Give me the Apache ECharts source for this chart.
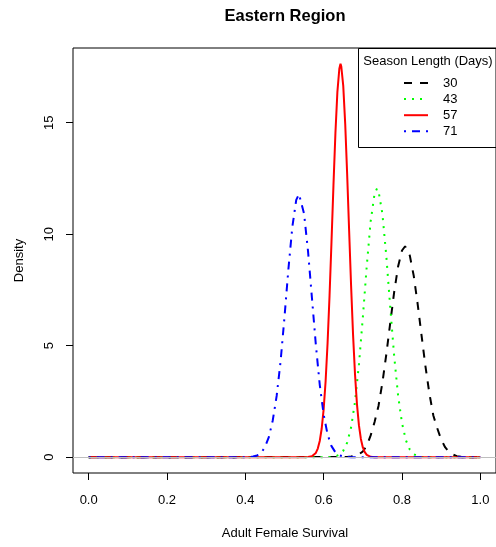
<!DOCTYPE html>
<html>
<head>
<meta charset="utf-8">
<script src="https://cdn.jsdelivr.net/npm/echarts@6/dist/echarts.min.js"></script>
<style>
html,body{margin:0;padding:0;background:#fff;}
#chart{width:496px;height:547px;}
</style>
</head>
<body>
<div id="chart"></div>
<script>
// ---- data ----
var seasonNames = ['30', '43', '57', '71'];
var seriesColors = ['#000000', '#00ff00', '#ff0000', '#0000ff'];

var x30 = [0, 0.66, 0.67, 0.68, 0.69, 0.70, 0.71, 0.72, 0.73, 0.74, 0.75, 0.76, 0.77, 0.78, 0.79, 0.80, 0.808, 0.81, 0.82, 0.83, 0.84, 0.85, 0.86, 0.87, 0.88, 0.89, 0.90, 0.91, 0.92, 0.93, 0.94, 0.95, 0.96, 1];
var d30 = [0, 0.01, 0.03, 0.06, 0.13, 0.26, 0.52, 0.98, 1.58, 2.30, 3.35, 4.62, 6.03, 7.40, 8.55, 9.27, 9.46, 9.45, 9.04, 8.13, 6.87, 5.45, 4.06, 2.85, 1.87, 1.30, 0.80, 0.45, 0.24, 0.12, 0.05, 0.02, 0, 0];

var x43 = [0, 0.61, 0.62, 0.63, 0.64, 0.65, 0.66, 0.67, 0.68, 0.69, 0.70, 0.71, 0.72, 0.73, 0.736, 0.74, 0.75, 0.76, 0.77, 0.78, 0.79, 0.80, 0.81, 0.82, 0.83, 0.84, 0.85, 0.86, 1];
var d43 = [0, 0.005, 0.014, 0.042, 0.116, 0.29, 0.655, 1.34, 2.48, 4.15, 6.27, 8.57, 10.58, 11.82, 12.04, 11.94, 10.91, 9.01, 6.72, 4.54, 2.77, 1.53, 0.76, 0.34, 0.14, 0.05, 0.016, 0, 0];

var x57 = [0, 0.55, 0.56, 0.57, 0.58, 0.585, 0.59, 0.595, 0.60, 0.605, 0.61, 0.615, 0.62, 0.625, 0.63, 0.635, 0.64, 0.643, 0.645, 0.65, 0.655, 0.66, 0.665, 0.67, 0.675, 0.68, 0.685, 0.69, 0.695, 0.70, 0.705, 0.71, 0.715, 0.72, 0.73, 1];
var d57 = [0, 0.001, 0.007, 0.042, 0.196, 0.39, 0.73, 1.29, 2.16, 3.42, 5.12, 7.24, 9.66, 12.19, 14.53, 16.37, 17.42, 17.64, 17.52, 16.65, 14.95, 12.68, 10.17, 7.70, 5.51, 3.73, 2.38, 1.44, 0.82, 0.44, 0.23, 0.108, 0.05, 0.021, 0.003, 0];

var x71 = [0, 0.41, 0.42, 0.43, 0.44, 0.45, 0.46, 0.47, 0.48, 0.49, 0.50, 0.51, 0.52, 0.53, 0.537, 0.54, 0.55, 0.56, 0.57, 0.58, 0.59, 0.60, 0.61, 0.62, 0.63, 0.64, 0.65, 0.66, 0.67, 1];
var d71 = [0, 0.005, 0.03, 0.08, 0.19, 0.45, 0.90, 1.65, 2.75, 4.30, 6.29, 8.44, 10.33, 11.54, 11.80, 11.75, 10.92, 9.25, 7.16, 5.05, 3.25, 1.91, 1.02, 0.50, 0.22, 0.09, 0.034, 0.01, 0, 0];

var xTickValues = [0, 0.2, 0.4, 0.6, 0.8, 1.0];
var yTickValues = [0, 5, 10, 15];

var titleText = 'Eastern Region';
var xAxisTitle = 'Adult Female Survival';
var yAxisTitle = 'Density';
var legendTitle = 'Season Length (Days)';

// ---- build ----
function zip(xs, ys) { return xs.map(function (x, i) { return [x, ys[i]]; }); }
var allX = [x30, x43, x57, x71];
var allD = [d30, d43, d57, d71];
var dashes = [[8, 8], [2, 6], 'solid', [2, 6, 8, 6]];
var FONT = '"Liberation Sans", Arial, Helvetica, sans-serif';
var FS = 13;

var series = seasonNames.map(function (name, i) {
  return {
    name: name,
    type: 'line',
    data: zip(allX[i], allD[i]),
    showSymbol: false,
    symbol: 'none',
    clip: false,
    animation: false,
    color: seriesColors[i],
    lineStyle: { color: seriesColors[i], width: 2, type: dashes[i] },
    z: 3
  };
});
series.unshift({
  name: 'zero',
  type: 'line',
  data: [],
  silent: true,
  animation: false,
  z: 2,
  markLine: {
    silent: true,
    symbol: 'none',
    animation: false,
    label: { show: false },
    lineStyle: { color: '#bebebe', width: 1, type: 'solid' },
    data: [{ yAxis: 0 }]
  }
});

var chart = echarts.init(document.getElementById('chart'), null, { renderer: 'canvas' });
chart.setOption({
  backgroundColor: '#ffffff',
  animation: false,
  textStyle: { fontFamily: FONT },
  grid: {
    left: 73, top: 48, width: 425, height: 425,
    show: true, borderColor: '#000', borderWidth: 1, backgroundColor: 'transparent'
  },
  xAxis: {
    type: 'value', min: -0.04, max: 1.04,
    axisLine: { show: false, onZero: false },
    splitLine: { show: false },
    axisTick: { show: true, inside: false, length: 7, customValues: xTickValues, lineStyle: { color: '#000' } },
    axisLabel: {
      customValues: xTickValues, margin: 21, color: '#000', fontSize: FS, fontFamily: FONT,
      formatter: function (v) { return v.toFixed(1); }
    }
  },
  yAxis: {
    type: 'value', min: -0.706, max: 18.35,
    axisLine: { show: false, onZero: false },
    splitLine: { show: false },
    axisTick: { show: true, inside: false, length: 7, customValues: yTickValues, lineStyle: { color: '#000' } },
    axisLabel: {
      customValues: yTickValues, margin: 17, rotate: 90, color: '#000', fontSize: FS, fontFamily: FONT
    }
  },
  legend: {
    data: seasonNames,
    orient: 'vertical',
    left: 403, top: 76.5,
    padding: 0,
    itemWidth: 24, itemHeight: 12, itemGap: 3.1,
    z: 20,
    itemStyle: { opacity: 0 },
    textStyle: { color: '#000', fontSize: FS, fontFamily: FONT, padding: [0, 0, 0, 10] },
    selectedMode: false
  },
  graphic: [
    { type: 'text', x: 285, y: 16, style: { text: titleText, font: 'bold 16.5px ' + FONT, fill: '#000', textAlign: 'center', textVerticalAlign: 'middle' } },
    { type: 'text', x: 285, y: 533, style: { text: xAxisTitle, font: FS + 'px ' + FONT, fill: '#000', textAlign: 'center', textVerticalAlign: 'middle' } },
    { type: 'text', x: 19, y: 260.5, rotation: Math.PI / 2, style: { text: yAxisTitle, font: FS + 'px ' + FONT, fill: '#000', textAlign: 'center', textVerticalAlign: 'middle' } },
    { type: 'rect', shape: { x: 358.5, y: 48.5, width: 140, height: 99 }, style: { fill: 'none', stroke: '#000', lineWidth: 1 } },
    { type: 'text', x: 428, y: 61, style: { text: legendTitle, font: FS + 'px ' + FONT, fill: '#000', textAlign: 'center', textVerticalAlign: 'middle' } }
  ],
  series: series
});
</script>
</body>
</html>
